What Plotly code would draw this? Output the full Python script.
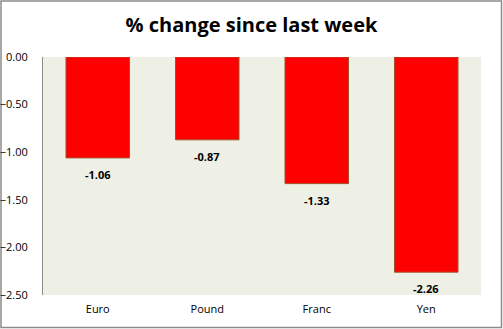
import plotly.graph_objects as go

currencies = ["Euro", "Pound", "Franc", "Yen"]
pct_change = [-1.06, -0.87, -1.33, -2.26]
y_ticks = [0.0, -0.5, -1.0, -1.5, -2.0, -2.5]

W, H = 503, 329
ml, mr, mt, mb = 43, 22, 57, 34
pw, ph = W - ml - mr, H - mt - mb

fig = go.Figure(
    go.Bar(
        x=currencies,
        y=pct_change,
        marker=dict(color="#FF0000", line=dict(color="#A0522D", width=1)),
    )
)

# value labels under each bar
for cat, val in zip(currencies, pct_change):
    fig.add_annotation(
        x=cat, y=val, text=f"{val:.2f}", showarrow=False,
        yanchor="top", yshift=-7,
        font=dict(family="Open Sans", size=11, color="#000000", weight="bold"),
    )

# outer chart frame
fig.add_shape(
    type="rect", xref="paper", yref="paper",
    x0=(1 - ml) / pw, x1=(W - 1.5 - ml) / pw,
    y0=-(mb - 1.5) / ph, y1=(ph + mt - 1) / ph,
    line=dict(color="#8C8C8C", width=1.5), fillcolor="rgba(0,0,0,0)", layer="below",
)

fig.update_layout(
    width=W, height=H,
    margin=dict(l=ml, r=mr, t=mt, b=mb),
    paper_bgcolor="white",
    plot_bgcolor="#EEF0E6",
    bargap=0.42,
    showlegend=False,
    title=dict(
        text="% change since last week",
        x=0.5, xref="container", xanchor="center",
        y=1 - 25 / H, yanchor="middle",
        font=dict(family="Open Sans", size=20, color="#000000", weight="bold"),
    ),
    font=dict(family="Open Sans", size=11, color="#000000"),
)
fig.update_xaxes(
    showline=False, showgrid=False, ticks="",
    ticklabelstandoff=6, automargin=False,
    tickfont=dict(family="Open Sans", size=11),
)
fig.update_yaxes(
    range=[-2.5, 0], tickvals=y_ticks, tickformat=".2f",
    showgrid=False, zeroline=False,
    showline=True, linecolor="#8C8C8C", linewidth=1,
    ticks="", ticklabelstandoff=12, automargin=False,
    tickfont=dict(family="Open Sans", size=11),
)

fig.write_html("out.html")
